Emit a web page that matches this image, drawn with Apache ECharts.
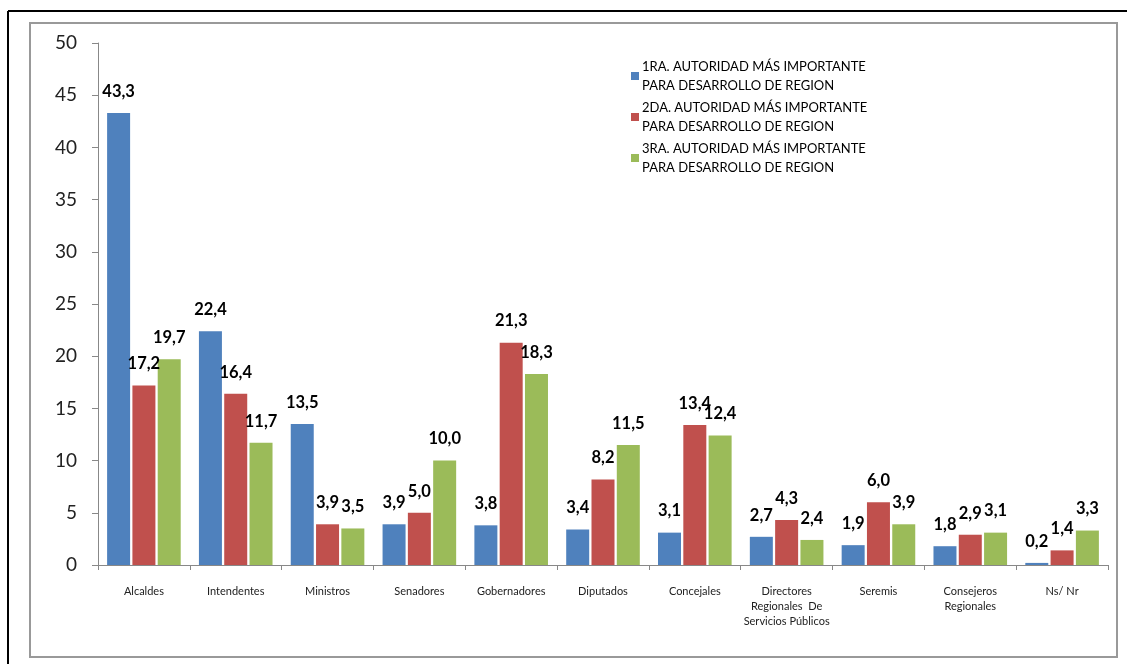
<!DOCTYPE html>
<html>
<head>
<meta charset="utf-8">
<script src="https://cdn.jsdelivr.net/npm/echarts@6/dist/echarts.min.js"></script>
<style>
html,body{margin:0;padding:0;background:#fff;}
#chart{width:1127px;height:664px;}
</style>
</head>
<body>
<div id="chart"></div>
<script>
const categories = ['Alcaldes','Intendentes','Ministros','Senadores','Gobernadores','Diputados','Concejales','Directores\nRegionales  De\nServicios Públicos','Seremis','Consejeros\nRegionales','Ns/ Nr'];
const seriesNames = ['1RA. AUTORIDAD MÁS IMPORTANTE\nPARA DESARROLLO DE REGION','2DA. AUTORIDAD MÁS IMPORTANTE\nPARA DESARROLLO DE REGION','3RA. AUTORIDAD MÁS IMPORTANTE\nPARA DESARROLLO DE REGION'];
const primera = [43.3, 22.4, 13.5, 3.9, 3.8, 3.4, 3.1, 2.7, 1.9, 1.8, 0.2];
const segunda = [17.2, 16.4, 3.9, 5.0, 21.3, 8.2, 13.4, 4.3, 6.0, 2.9, 1.4];
const tercera = [19.7, 11.7, 3.5, 10.0, 18.3, 11.5, 12.4, 2.4, 3.9, 3.1, 3.3];
const yTicks = [0,5,10,15,20,25,30,35,40,45,50];
const colors = ['#4F81BD','#C0504D','#9BBB59'];

const fontFam = 'Lato, "Open Sans", sans-serif';
const chart = echarts.init(document.getElementById('chart'), null, {renderer:'canvas'});
function mk(name, data, color){
  return {
    name: name, type:'bar', data: data, barWidth: 23, barGap: '10%',
    itemStyle:{color: color},
    label:{show:true, position:'top', distance:13, fontFamily: fontFam, fontWeight:'bold', fontSize:16.5, color:'#000',
      formatter: p => p.value.toFixed(1).replace('.', ',')}
  };
}
chart.setOption({
  backgroundColor:'#fff',
  animation:false,
  textStyle:{fontFamily: fontFam},
  graphic:[
    {type:'line', shape:{x1:8,y1:11,x2:1127,y2:11}, style:{stroke:'#000', lineWidth:2}, silent:true},
    {type:'line', shape:{x1:8,y1:11,x2:8,y2:664}, style:{stroke:'#000', lineWidth:2}, silent:true},
    {type:'rect', shape:{x:30,y:23,width:1087,height:634}, style:{fill:'none', stroke:'#999', lineWidth:2}, silent:true}
  ],
  legend:{
    orient:'vertical', left:626, top:52,
    itemWidth:8, itemHeight:8, itemGap:3, icon:'rect',
    textStyle:{fontFamily: fontFam, fontSize:13, color:'#000', lineHeight:19, padding:[0,0,0,-2]},
    data: seriesNames
  },
  grid:{left:98, right:19, top:43, bottom:99},
  xAxis:{
    type:'category', data: categories,
    axisLine:{lineStyle:{color:'#888'}},
    axisTick:{show:true, length:5, lineStyle:{color:'#888'}},
    axisLabel:{interval:0, fontSize:11, color:'#222', margin:19, lineHeight:15, fontFamily: fontFam}
  },
  yAxis:{
    type:'value', min:0, max:50, interval:5,
    axisLine:{show:true, lineStyle:{color:'#888'}},
    axisTick:{show:true, inside:false, length:6, lineStyle:{color:'#888'}},
    splitLine:{show:false},
    axisLabel:{fontSize:19, color:'#222', margin:21, fontFamily: fontFam,
      formatter: v => yTicks.includes(v) ? String(v) : ''}
  },
  series:[
    mk(seriesNames[0], primera, colors[0]),
    mk(seriesNames[1], segunda, colors[1]),
    mk(seriesNames[2], tercera, colors[2])
  ]
});
</script>
</body>
</html>
